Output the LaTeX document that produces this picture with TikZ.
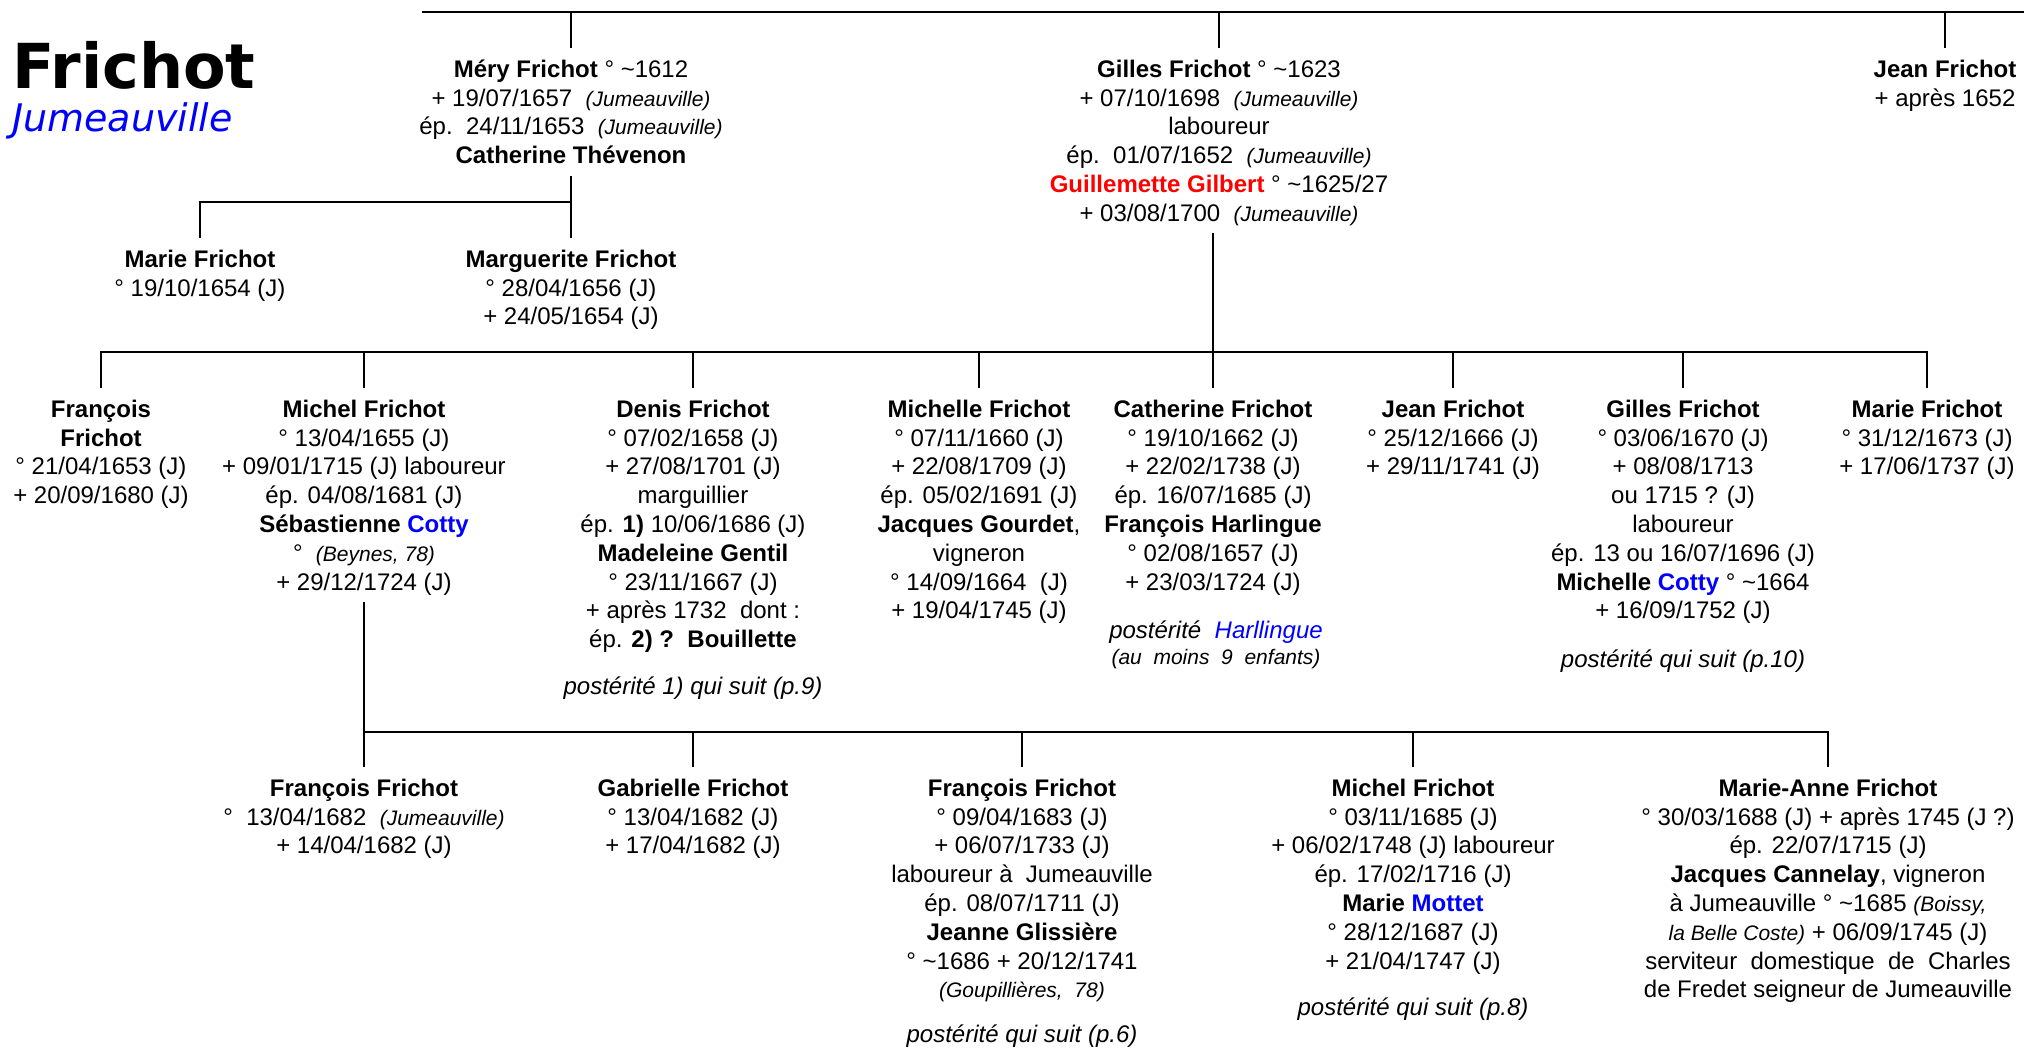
\documentclass[tikz,border=0pt]{standalone}
\usepackage{fontspec}
\setmainfont{Liberation Sans}
\newfontfamily\titlefont{DejaVu Sans}
\definecolor{lnkblue}{RGB}{0,0,255}
\definecolor{hired}{RGB}{255,0,0}
\newcommand{\sm}[1]{{\fontsize{21}{24}\selectfont\itshape #1}}
\newcommand{\fs}{\rule{0pt}{23pt}}
\newcommand{\ls}{\rule[-6pt]{0pt}{6pt}}
\tikzset{
  person/.style={align=center, anchor=north, inner xsep=0pt, inner ysep=6pt,
    font=\fontsize{24}{28.8}\selectfont},
  post/.style={anchor=base, inner sep=0pt, font=\fontsize{24}{28.8}\selectfont\itshape},
  link/.style={line width=2.9pt, draw=black}
}
\begin{document}
\begin{tikzpicture}[x=1pt,y=-1pt]
\fill[white] (0,0) rectangle (2024,1050);
\useasboundingbox (0,0) rectangle (2024,1050);

% title
\node[anchor=base west, inner sep=0pt, font=\titlefont\bfseries\fontsize{62}{70}\selectfont] (title) at (12,88) {Frichot};
\node[anchor=base west, inner sep=0pt, text=lnkblue, font=\titlefont\itshape\fontsize{38}{44}\selectfont] (place) at (12,131) {Jumeauville};

% bus coordinates
\coordinate (busTL) at (422,12);
\coordinate (busTR) at (2024,12);
\coordinate (busC) at (0,202);
\coordinate (busM) at (0,352);
\coordinate (busB) at (0,732);

% top generation
\node[person] (mery) at (571,48) {\fs\textbf{Méry Frichot} ° \textasciitilde1612\\+ 19/07/1657~~\sm{(Jumeauville)}\\ép.~~24/11/1653~~\sm{(Jumeauville)}\\\textbf{Catherine Thévenon}\ls};
\node[person] (gilles) at (1219,48) {\fs\textbf{Gilles Frichot} ° \textasciitilde1623\\+ 07/10/1698~~\sm{(Jumeauville)}\\laboureur\\ép.~~01/07/1652~~\sm{(Jumeauville)}\\\textcolor{hired}{\textbf{Guillemette Gilbert}} ° \textasciitilde1625/27\\+ 03/08/1700~~\sm{(Jumeauville)}\ls};
\node[person] (jean) at (1945,48) {\fs\textbf{Jean Frichot}\\+ après 1652\ls};

% children of Méry
\node[person] (marie) at (200,238) {\fs\textbf{Marie Frichot}\\° 19/10/1654 (J)\ls};
\node[person] (marg) at (571,238) {\fs\textbf{Marguerite Frichot}\\° 28/04/1656 (J)\\+ 24/05/1654 (J)\ls};

% children of Gilles
\node[person] (francois) at (101,388) {\fs\textbf{François}\\\textbf{Frichot}\\° 21/04/1653 (J)\\+ 20/09/1680 (J)\ls};
\node[person] (michel) at (364,388) {\fs\textbf{Michel Frichot}\\° 13/04/1655 (J)\\+ 09/01/1715 (J) laboureur\\ép. 04/08/1681 (J)\\\textbf{Sébastienne \textcolor{lnkblue}{Cotty}}\\°~~\sm{(Beynes, 78)}\\+ 29/12/1724 (J)\ls};
\node[person] (denis) at (693,388) {\fs\textbf{Denis Frichot}\\° 07/02/1658 (J)\\+ 27/08/1701 (J)\\marguillier\\ép. \textbf{1)} 10/06/1686 (J)\\\textbf{Madeleine Gentil}\\° 23/11/1667 (J)\\+ après 1732~~dont :\\ép. \textbf{2) ?~~Bouillette}\ls};
\node[post] (denisP) at (693,694) {postérité 1) qui suit (p.9)};
\node[person] (michelle) at (979,388) {\fs\textbf{Michelle Frichot}\\° 07/11/1660 (J)\\+ 22/08/1709 (J)\\ép. 05/02/1691 (J)\\\textbf{Jacques Gourdet},\\vigneron\\° 14/09/1664~~(J)\\+ 19/04/1745 (J)\ls};
\node[person] (catherine) at (1213,388) {\fs\textbf{Catherine Frichot}\\° 19/10/1662 (J)\\+ 22/02/1738 (J)\\ép. 16/07/1685 (J)\\\textbf{François Harlingue}\\° 02/08/1657 (J)\\+ 23/03/1724 (J)\ls};
\node[post] (catherineP) at (1216,638) {postérité~~\textcolor{lnkblue}{Harllingue}};
\node[post, font=\fontsize{21}{24}\selectfont\itshape] (catherineN) at (1216,664) {(au~~moins~~9~~enfants)};
\node[person] (jean2) at (1453,388) {\fs\textbf{Jean Frichot}\\° 25/12/1666 (J)\\+ 29/11/1741 (J)\ls};
\node[person] (gilles2) at (1683,388) {\fs\textbf{Gilles Frichot}\\° 03/06/1670 (J)\\+ 08/08/1713\\ou 1715 ? (J)\\laboureur\\ép. 13 ou 16/07/1696 (J)\\\textbf{Michelle \textcolor{lnkblue}{Cotty}} ° \textasciitilde1664\\+ 16/09/1752 (J)\ls};
\node[post] (gilles2P) at (1683,667) {postérité qui suit (p.10)};
\node[person] (marie2) at (1927,388) {\fs\textbf{Marie Frichot}\\° 31/12/1673 (J)\\+ 17/06/1737 (J)\ls};

% children of Michel
\node[person] (fb) at (364,767) {\fs\textbf{François Frichot}\\°~~13/04/1682~~\sm{(Jumeauville)}\\+ 14/04/1682 (J)\ls};
\node[person] (gab) at (693,767) {\fs\textbf{Gabrielle Frichot}\\° 13/04/1682 (J)\\+ 17/04/1682 (J)\ls};
\node[person] (fb2) at (1022,767) {\fs\textbf{François Frichot}\\° 09/04/1683 (J)\\+ 06/07/1733 (J)\\laboureur~à~~Jumeauville\\ép. 08/07/1711 (J)\\\textbf{Jeanne Glissière}\\° \textasciitilde1686 + 20/12/1741\\\sm{(Goupillières,~~78)}\ls};
\node[post] (fb2P) at (1022,1042) {postérité qui suit (p.6)};
\node[person] (mich2) at (1413,767) {\fs\textbf{Michel Frichot}\\° 03/11/1685 (J)\\+ 06/02/1748 (J) laboureur\\ép. 17/02/1716 (J)\\\textbf{Marie \textcolor{lnkblue}{Mottet}}\\° 28/12/1687 (J)\\+ 21/04/1747 (J)\ls};
\node[post] (mich2P) at (1413,1015) {postérité qui suit (p.8)};
\node[person] (ma) at (1828,767) {\fs\textbf{Marie-Anne Frichot}\\° 30/03/1688 (J) + après 1745 (J ?)\\ép. 22/07/1715 (J)\\\textbf{Jacques Cannelay}, vigneron\\à Jumeauville ° \textasciitilde1685 \sm{(Boissy,}\\\sm{la Belle Coste)} + 06/09/1745 (J)\\serviteur~~domestique~~de~~Charles\\de Fredet seigneur de Jumeauville\ls};

% connectors
\draw[link] (busTL) -- (busTR);
\draw[link] (mery.north |- busTL) -- (mery.north);
\draw[link] (gilles.north |- busTL) -- (gilles.north);
\draw[link] (jean.north |- busTL) -- (jean.north);

\draw[link] (mery.south) -- (marg.north);
\draw[link] (marie.north) -- (marie.north |- busC) -- (mery.south |- busC);

\draw[link] (catherine.north |- gilles.south) -- (catherine.north);
\draw[link] (francois.north) -- (francois.north |- busM) -- (marie2.north |- busM) -- (marie2.north);
\foreach \n in {michel,denis,michelle,jean2,gilles2}
  \draw[link] (\n.north |- busM) -- (\n.north);

\draw[link] (michel.south) -- (michel.south |- busB);
\draw[link] (fb.north) -- (fb.north |- busB) -- (ma.north |- busB) -- (ma.north);
\foreach \n in {gab,fb2,mich2}
  \draw[link] (\n.north |- busB) -- (\n.north);
\end{tikzpicture}
\end{document}
